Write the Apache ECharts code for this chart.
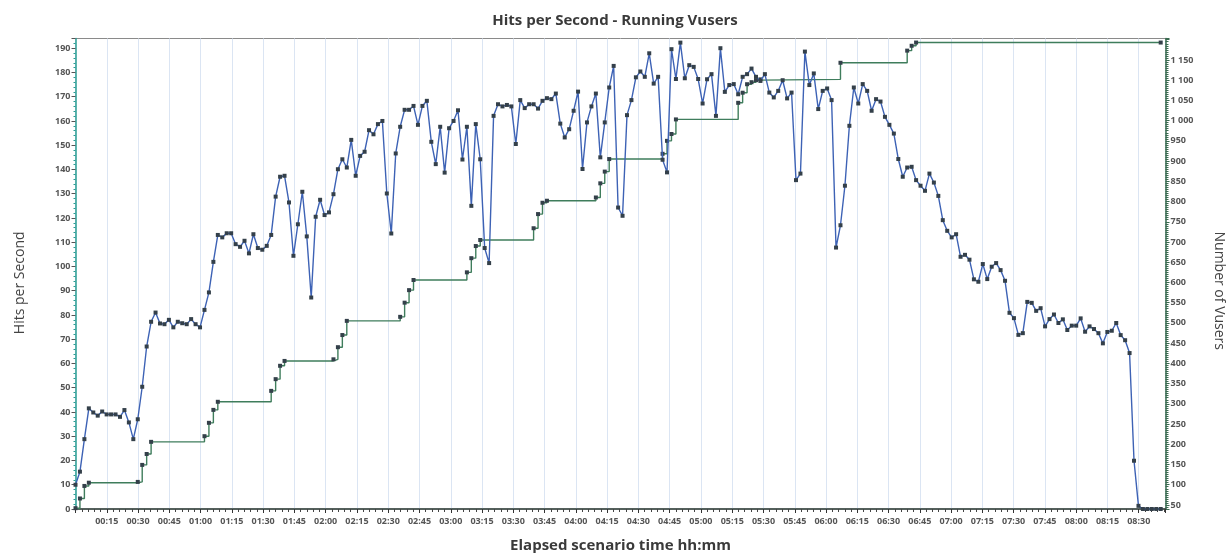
<!DOCTYPE html>
<html>
<head>
<meta charset="utf-8">
<script src="https://cdn.jsdelivr.net/npm/echarts@6/dist/echarts.min.js"></script>
<style>
  html, body { margin: 0; padding: 0; background: #ffffff; }
  #chart { width: 1230px; height: 554px; }
</style>
</head>
<body>
<div id="chart"></div>
<script>
// Sampling granularity of the scenario (seconds between samples)
const granularitySec = 128;

// Hits per second, one value per sample
const hits = [
  10, 15.4, 28.8, 41.5, 39.8, 38.5, 40.2, 39, 39, 39,
  38, 40.8, 35.7, 28.8, 37, 50.4, 67, 77.2, 81, 76.5,
  76.2, 78, 74.9, 77.2, 76.6, 76.2, 78.3, 76.2, 74.9, 82.1,
  89.3, 101.9, 113, 112, 113.7, 113.7, 109.2, 108.1, 110.6, 105.4,
  113.3, 107.6, 106.9, 108.5, 113, 128.8, 137, 137.4, 126.4, 104.4,
  117.4, 130.8, 112.4, 87.2, 120.5, 127.5, 121.2, 122.3, 129.8, 140.1,
  144.2, 140.8, 152.2, 137.4, 145.6, 147.3, 156.2, 154.5, 158.7, 160,
  130.1, 113.6, 146.6, 157.6, 164.6, 164.6, 166.2, 158.4, 166.2, 168.3,
  151.4, 142.2, 157.6, 138.7, 157, 160, 164.4, 144.1, 157.6, 125,
  158.7, 144.2, 107.6, 101.4, 162.1, 166.9, 166, 166.6, 166, 150.5,
  168.6, 165.3, 166.9, 166.9, 165.1, 168.3, 169.4, 169, 171.3, 158.9,
  153.2, 156.6, 164.2, 172.1, 140.2, 159.4, 166, 171.3, 145, 159.4,
  173.8, 182.7, 124.3, 120.9, 162.4, 168.6, 178, 180.4, 178.2, 187.9,
  175.4, 178.2, 144, 138.8, 189.6, 177.3, 192.3, 177.6, 183, 182.3,
  177.3, 167.2, 177.2, 179.3, 162.1, 190, 172, 174.8, 175.2, 171,
  178.2, 179.3, 181.6, 178.2, 176.5, 179.3, 171.7, 169.7, 172.4, 176.8,
  169.3, 171.7, 135.6, 138.3, 188.6, 174.8, 179.6, 164.9, 172.4, 173.4,
  168.6, 107.8, 117, 133.3, 158, 173.8, 167.2, 175.2, 172.4, 164.2,
  169, 168, 161.7, 158.4, 154.8, 144.3, 137, 140.8, 141.1, 135.6,
  133.3, 131.2, 138.3, 134.6, 129.1, 119.1, 114.7, 112, 113.3, 104,
  104.8, 102.8, 94.7, 93.7, 101, 94.8, 99.9, 101.4, 98.5, 94.1,
  80.9, 78.7, 71.8, 72.5, 85.4, 85, 81.7, 82.8, 75.3, 78.3,
  80.2, 76.7, 78.2, 73.8, 75.6, 75.6, 78.6, 73.1, 75.3, 74.2,
  72.5, 68.3, 73, 73.5, 76.7, 71.7, 69.6, 64.3, 19.9, 1.3,
  0, 0, 0, 0, 0
];

// Running Vusers: sample index where the count changes, and the count
const vuserSample = [
  0, 1, 2, 3, 14, 15, 16, 17, 29, 30, 31, 32, 44, 45, 46, 47,
  58, 59, 60, 61, 73, 74, 75, 76, 88, 89, 90, 91, 103, 104, 105, 106,
  117, 118, 119, 120, 132, 133, 134, 135, 149, 150, 151, 152, 153, 154,
  172, 187, 188, 189, 244
];
const vusers = [
  42, 66, 97, 105, 107, 149, 176, 206, 220, 253, 285, 305, 332, 361, 394, 406,
  410, 440, 470, 505, 515, 550, 581, 606, 625, 660, 690, 705, 734, 769, 797, 802,
  810, 845, 874, 905, 918, 950, 967, 1003, 1044, 1069, 1090, 1095, 1100, 1102,
  1143, 1173, 1185, 1193, 1193
];

// Axis settings (tick labels)
const xTickSec = 900;          // 15 minutes
const hitsTick = 10;
const vusersTick = 50;
const lastVusersLabel = 1150;

const hitsData = hits.map((v, i) => [i * granularitySec, v]);
const vusersData = vuserSample.map((s, i) => [s * granularitySec, vusers[i]]);

function hhmm(sec) {
  const m = Math.round(sec / 60);
  const h = Math.floor(m / 60);
  const mm = m % 60;
  return String(h).padStart(2, '0') + ':' + String(mm).padStart(2, '0');
}
function spaced(v) {
  return String(v).replace(/\B(?=(\d{3})+(?!\d))/g, ' ');
}

const labelFont = 'Open Sans, DejaVu Sans, sans-serif';
const chart = echarts.init(document.getElementById('chart'), null, { renderer: 'canvas' });

chart.setOption({
  backgroundColor: '#ffffff',
  animation: false,
  title: {
    text: 'Hits per Second - Running Vusers',
    left: 'center',
    top: 8,
    textStyle: { fontFamily: labelFont, fontWeight: 'bold', fontSize: 15, color: '#3a3a3a' }
  },
  grid: {
    left: 75.5, right: 64.5, top: 38.5, bottom: 45,
    outerBoundsMode: 'none', containLabel: false,
    show: true, borderColor: '#8a8a8a', borderWidth: 1, backgroundColor: 'transparent'
  },
  xAxis: {
    type: 'value',
    min: 0, max: 31370, interval: xTickSec,
    name: 'Elapsed scenario time hh:mm',
    nameLocation: 'middle', nameGap: 29,
    nameTextStyle: { fontFamily: labelFont, fontWeight: 'bold', fontSize: 15, color: '#3a3a3a' },
    axisLine: { show: true, lineStyle: { color: '#2f3f3a', width: 1.5 } },
    axisTick: { show: true, length: 4, lineStyle: { color: '#333' } },
    minorTick: { show: true, splitNumber: 5, length: 3, lineStyle: { color: '#444' } },
    splitLine: { show: true, lineStyle: { color: '#dbe5f3', width: 1 } },
    axisLabel: {
      fontFamily: labelFont, fontSize: 9, fontWeight: 'bold', color: '#555', margin: 8,
      formatter: v => (v > 0 && v % xTickSec === 0) ? hhmm(v) : ''
    }
  },
  yAxis: [
    {
      type: 'value', position: 'left',
      min: 0, max: 194, interval: hitsTick,
      name: 'Hits per Second',
      nameLocation: 'middle', nameGap: 48,
      nameTextStyle: { fontFamily: labelFont, fontSize: 14, color: '#444', padding: [0, 18, 0, 0] },
      axisLine: { show: true, lineStyle: { color: '#2a9d93', width: 1.5 } },
      axisTick: { show: true, length: 4, lineStyle: { color: '#555' } },
      minorTick: { show: true, splitNumber: 5, length: 2, lineStyle: { color: '#2a9d93' } },
      splitLine: { show: false },
      axisLabel: {
        fontFamily: labelFont, fontSize: 9, fontWeight: 'bold', color: '#555', margin: 5,
        formatter: v => (v % hitsTick === 0) ? String(v) : ''
      }
    },
    {
      type: 'value', position: 'right',
      min: 40, max: 1203, splitNumber: 23, minInterval: vusersTick, maxInterval: vusersTick,
      name: 'Number of Vusers',
      nameLocation: 'middle', nameGap: 46, nameRotate: -90,
      nameTextStyle: { fontFamily: labelFont, fontSize: 14, color: '#444', padding: [0, 0, 0, 34] },
      axisLine: { show: true, lineStyle: { color: '#3a6b50', width: 1.5 } },
      axisTick: { show: true, length: 4, lineStyle: { color: '#3a6b50' } },
      minorTick: { show: true, splitNumber: 10, length: 3, lineStyle: { color: '#3a6b50' } },
      splitLine: { show: false },
      axisLabel: {
        fontFamily: labelFont, fontSize: 9, fontWeight: 'bold', color: '#555', margin: 5,
        formatter: v => (v % vusersTick === 0 && v <= lastVusersLabel) ? spaced(v) : ''
      }
    }
  ],
  series: [
    {
      name: 'Running Vusers',
      type: 'line',
      yAxisIndex: 1,
      step: 'end',
      data: vusersData,
      showAllSymbol: true,
      symbol: 'rect', symbolSize: 4,
      itemStyle: { color: '#34404a' },
      lineStyle: { color: '#3f7d5c', width: 1.4 },
      z: 2
    },
    {
      name: 'Hits per Second',
      type: 'line',
      yAxisIndex: 0,
      data: hitsData,
      showAllSymbol: true,
      symbol: 'rect', symbolSize: 4,
      itemStyle: { color: '#34404a' },
      lineStyle: { color: '#3d62b5', width: 1.4 },
      z: 3
    }
  ]
});
</script>
</body>
</html>
